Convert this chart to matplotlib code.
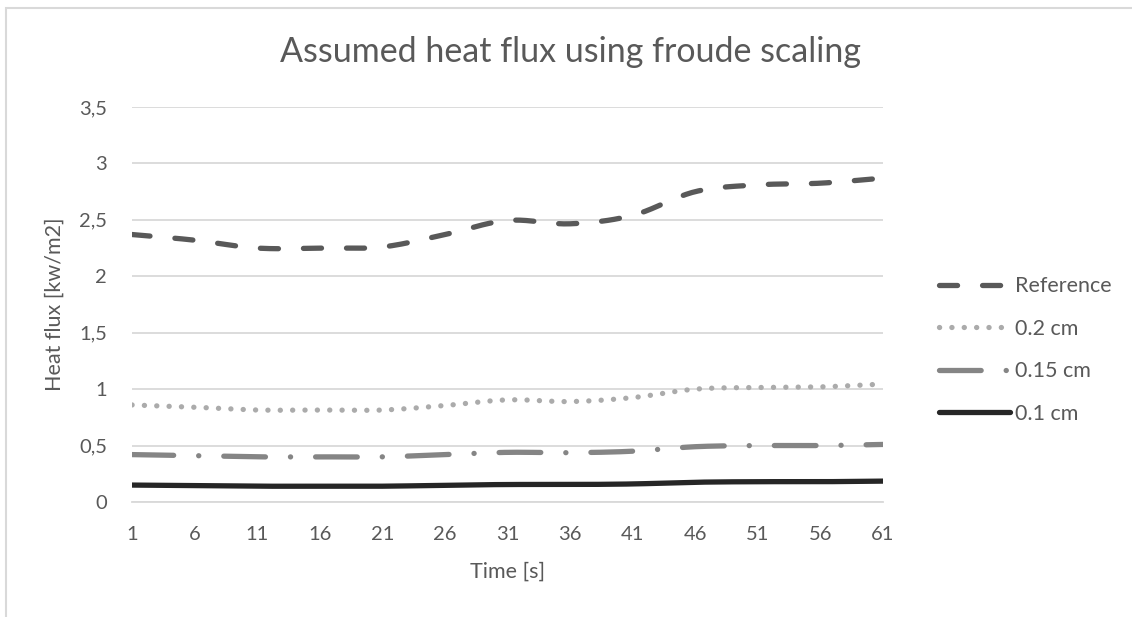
import numpy as np
import matplotlib
matplotlib.use("Agg")
import matplotlib.pyplot as plt
from matplotlib.patches import Rectangle

# ---- data ----
time_s = [1, 6, 11, 16, 21, 26, 31, 36, 41, 46, 51, 56, 61]
reference = [2.37, 2.32, 2.25, 2.25, 2.26, 2.37, 2.495, 2.465, 2.54, 2.75, 2.81, 2.825, 2.87]
cm_02 = [0.86, 0.84, 0.815, 0.815, 0.815, 0.855, 0.905, 0.89, 0.925, 1.0, 1.015, 1.02, 1.045]
cm_015 = [0.42, 0.41, 0.40, 0.40, 0.40, 0.42, 0.44, 0.437, 0.45, 0.49, 0.50, 0.50, 0.51]
cm_01 = [0.15, 0.145, 0.14, 0.14, 0.14, 0.148, 0.155, 0.155, 0.16, 0.175, 0.18, 0.18, 0.185]
x_ticks = [1, 6, 11, 16, 21, 26, 31, 36, 41, 46, 51, 56, 61]
y_ticks = [0, 0.5, 1, 1.5, 2, 2.5, 3, 3.5]
y_tick_labels = ["0", "0,5", "1", "1,5", "2", "2,5", "3", "3,5"]

plt.rcParams['font.family'] = ['Lato', 'DejaVu Sans']
plt.rcParams['lines.scale_dashes'] = False
TXT = '#595959'


def smooth(x, y, n=20):
    """Catmull-Rom style curve through the given points (Excel 'smoothed line')."""
    x = np.asarray(x, float)
    y = np.asarray(y, float)
    P = np.column_stack([x, y])
    P = np.vstack([2 * P[0] - P[1], P, 2 * P[-1] - P[-2]])
    out = []
    for i in range(1, len(P) - 2):
        p0, p1, p2, p3 = P[i - 1], P[i], P[i + 1], P[i + 2]
        t = np.linspace(0, 1, n, endpoint=False)[:, None]
        seg = 0.5 * ((2 * p1) + (-p0 + p2) * t + (2 * p0 - 5 * p1 + 4 * p2 - p3) * t ** 2
                     + (-p0 + 3 * p1 - 3 * p2 + p3) * t ** 3)
        out.append(seg)
    out.append(P[-2][None, :])
    out = np.vstack(out)
    return out[:, 0], out[:, 1]


fig = plt.figure(figsize=(11.32, 6.17), dpi=100)
ax = fig.add_axes([132 / 1132, 1 - 502 / 617, (883 - 132) / 1132, (502 - 107) / 617])

# outer chart border
fig.patches.append(Rectangle((5.5 / 1132, -0.1), 1.2, 1 - 7.5 / 617 + 0.1,
                             transform=fig.transFigure, fill=False,
                             edgecolor='#D9D9D9', linewidth=1.5, zorder=0))

series = [
    ("Reference", reference, '#595959', (0, (13, 18))),
    ("0.2 cm", cm_02, '#ABABAB', (0, (0.1, 8.8))),
    ("0.15 cm", cm_015, '#858585', (0, (30, 18, 0.1, 18))),
    ("0.1 cm", cm_01, '#262626', '-'),
]
for name, vals, col, ls in series:
    xs, ys = smooth(time_s, vals)
    ax.plot(xs, ys, color=col, linestyle=ls, linewidth=3.8,
            dash_capstyle='round', solid_capstyle='round', label=name, zorder=3)

ax.set_xlim(1, 61)
ax.set_ylim(0, 3.5)
ax.set_xticks(x_ticks)
ax.set_xticklabels([str(v) for v in x_ticks])
ax.set_yticks(y_ticks)
ax.set_yticklabels(y_tick_labels)
ax.grid(axis='y', color='#D9D9D9', linewidth=1.3)
ax.set_axisbelow(True)
for s in ['top', 'right', 'left']:
    ax.spines[s].set_visible(False)
ax.spines['bottom'].set_color('#D9D9D9')
ax.spines['bottom'].set_linewidth(1.3)
ax.tick_params(axis='both', length=0, labelsize=14.5, colors=TXT)
ax.tick_params(axis='x', pad=17)
ax.tick_params(axis='y', pad=18)

ax.set_xlabel("Time [s]", fontsize=15.5, color=TXT, labelpad=14)
ax.set_ylabel("Heat flux [kw/m2]", fontsize=15.5, color=TXT, labelpad=10)

fig.text(570 / 1132, 1 - 52 / 617, "Assumed heat flux using froude scaling",
         ha='center', va='center', fontsize=24.5, color=TXT)

leg = ax.legend(loc='center left', bbox_to_anchor=(930 / 1132, 1 - 350 / 617),
                bbox_transform=fig.transFigure, frameon=False, fontsize=15.5,
                handlelength=3.3, handletextpad=0.25, labelspacing=1.05, borderaxespad=0)
for t in leg.get_texts():
    t.set_color(TXT)

fig.savefig("out.png", dpi=100)
